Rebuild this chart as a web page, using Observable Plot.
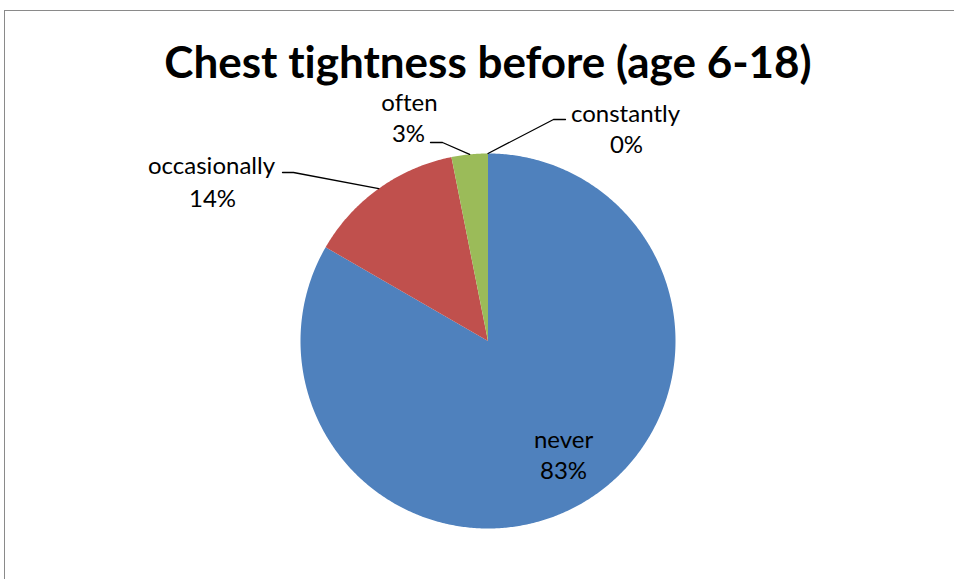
<!DOCTYPE html>
<html><head><meta charset="utf-8">
<script src="https://cdn.jsdelivr.net/npm/d3@7"></script>
<script src="https://cdn.jsdelivr.net/npm/@observablehq/plot@0.6"></script>
<style>
body{margin:0;background:#fff;}
#wrap{position:relative;width:954px;height:579px;overflow:hidden;}
#frame{position:absolute;left:4px;top:10px;right:-4px;bottom:-4px;border-top:1.5px solid #8a8a8a;border-left:1.5px solid #8a8a8a;pointer-events:none;}
svg{display:block}
svg text{font-variant-ligatures:none;font-feature-settings:"liga" 0,"clig" 0;}
</style></head><body><div id="wrap"><div id="frame"></div></div>
<script>
// ---- data ----
const categories = ["never", "occasionally", "often", "constantly"];
const counts = [80, 13, 3, 0];
const colors = ["#4F81BD", "#C0504D", "#9BBB59", "#8064A2"];
const title = "Chest tightness before (age 6-18)";

// ---- layout (pixels) ----
const W = 954, H = 579, CX = 487.5, CY = 340.5, R = 187.5;
const toX = px => (px - CX) / R, toY = py => (CY - py) / R;
const labelLayout = {
  never:        {name: [563, 447],   pct: [563, 478]},
  occasionally: {name: [211, 173],   pct: [212, 206],   elbow: [293, 172], end: [282, 172]},
  often:        {name: [409, 110],   pct: [408, 141.5], elbow: [442, 142], end: [430, 142]},
  constantly:   {name: [625, 121.5], pct: [626, 152],   elbow: [553, 119], end: [565, 119]}
};

const total = d3.sum(counts);
const rows = categories.map((c, i) => ({category: c, count: counts[i], share: counts[i] / total}));
const arcs = d3.pie().sort(null).value(d => d.count)(rows);

// slice polygons in unit-circle space
const poly = [];
for (const a of arcs) {
  if (a.endAngle - a.startAngle <= 0) continue;
  poly.push({category: a.data.category, x: 0, y: 0});
  const n = Math.max(2, Math.ceil((a.endAngle - a.startAngle) / (Math.PI / 360)));
  for (let k = 0; k <= n; k++) {
    const t = a.startAngle + (a.endAngle - a.startAngle) * k / n;
    poly.push({category: a.data.category, x: Math.sin(t), y: Math.cos(t)});
  }
}

// leader lines and labels
const fmt = d3.format(".0%");
const leaders = [], labels = [];
for (const a of arcs) {
  const c = a.data.category, L = labelLayout[c];
  const mid = (a.startAngle + a.endAngle) / 2;
  if (L.elbow) {
    leaders.push({category: c, x: Math.sin(mid), y: Math.cos(mid)});
    leaders.push({category: c, x: toX(L.elbow[0]), y: toY(L.elbow[1])});
    leaders.push({category: c, x: toX(L.end[0]), y: toY(L.end[1])});
  }
  labels.push({x: toX(L.name[0]), y: toY(L.name[1]), text: c});
  labels.push({x: toX(L.pct[0]), y: toY(L.pct[1]), text: fmt(a.data.share)});
}

const chart = Plot.plot({
  width: W, height: H, margin: 0,
  x: {domain: [toX(0), toX(W)], axis: null},
  y: {domain: [toY(H), toY(0)], axis: null},
  color: {domain: categories, range: colors},
  style: {background: "transparent", fontFamily: "Lato, sans-serif"},
  marks: [
    Plot.line(poly, {x: "x", y: "y", z: "category", fill: "category", stroke: "none", curve: "linear-closed"}),
    Plot.line(leaders, {x: "x", y: "y", z: "category", stroke: "black", strokeWidth: 1.3}),
    Plot.text(labels, {x: "x", y: "y", text: "text", fontSize: 24, lineAnchor: "bottom", textAnchor: "middle", fill: "black"}),
    Plot.text([{x: toX(487.5), y: toY(77), text: title}], {x: "x", y: "y", text: "text", fontSize: 44, fontWeight: "bold", lineAnchor: "bottom", textAnchor: "middle", fill: "black"})
  ]
});
document.getElementById("wrap").prepend(chart);
</script></body></html>
